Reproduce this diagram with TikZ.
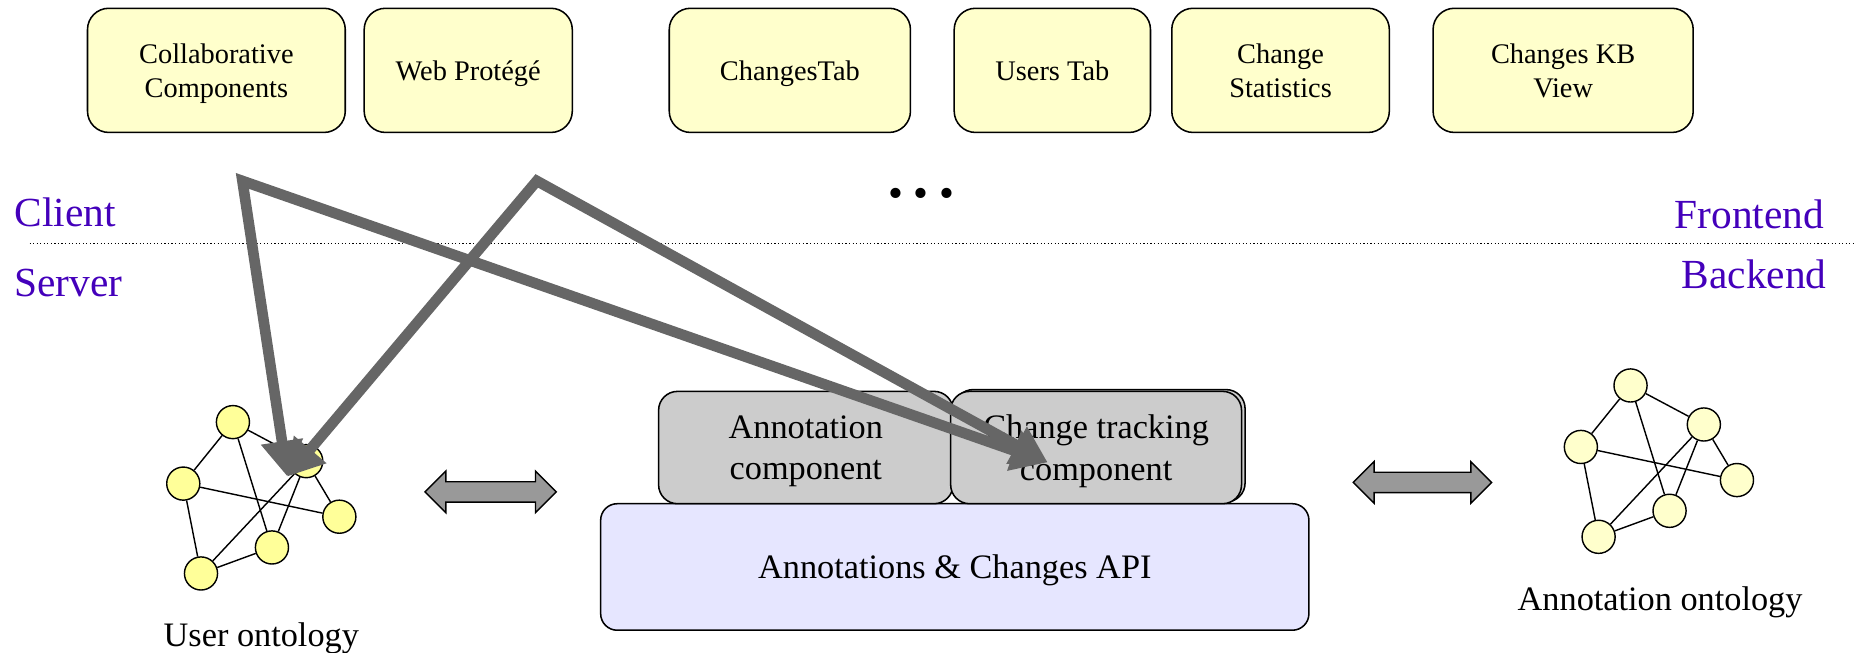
\documentclass[tikz,border=0pt]{standalone}
\usepackage{fontspec}
\setmainfont{Liberation Serif}
\usepackage{xcolor}
\usepackage{tikz}
\usetikzlibrary{arrows.meta, positioning, shapes, shadows}
\definecolor{toolFill}{HTML}{FFFFCC}
\definecolor{userDot}{HTML}{FFFF99}
\definecolor{annoDot}{HTML}{FFFFCC}
\definecolor{compFill}{HTML}{CCCCCC}
\definecolor{apiFill}{HTML}{E6E6FF}
\definecolor{tierColor}{HTML}{4400BB}
\definecolor{linkColor}{HTML}{666666}
\definecolor{syncFill}{HTML}{999999}

\tikzset{
  toolbox/.style={rectangle, rounded corners=18pt, draw=black, line width=1.3pt, fill=toolFill, minimum height=105pt, inner sep=0pt, outer sep=0pt, text depth=0pt, align=center, font=\fontsize{24}{29}\selectfont},
  compbox/.style={rectangle, rounded corners=16pt, draw=black, line width=1.3pt, fill=compFill, minimum height=95pt, inner sep=0pt, text depth=0pt, align=center, font=\fontsize{29}{35}\selectfont},
  tier/.style={text=tierColor, inner sep=0pt, font=\fontsize{35}{40}\selectfont},
  onto/.style={circle, draw=black, line width=1.2pt, minimum size=28pt, inner sep=0pt},
  ontolabel/.style={inner sep=0pt, font=\fontsize{29}{35}\selectfont},
  link/.style={draw=linkColor, line width=9pt, {Triangle[length=30pt, width=34pt]}-{Triangle[length=30pt, width=34pt]}},
  sync/.style={double arrow, draw=black, line width=1.2pt, fill=syncFill, minimum width=34pt, double arrow head extend=9pt, inner xsep=0pt, inner ysep=8pt}
}

% one small ontology graph: #1 prefix, #2 shift, #3 fill
\newcommand{\ontograph}[3]{%
  \begin{scope}[shift={#2}]
    \node[onto, fill=#3] (#1a) at (0,0) {};
    \node[onto, fill=#3] (#1b) at (62,33) {};
    \node[onto, fill=#3] (#1c) at (-42,52) {};
    \node[onto, fill=#3] (#1d) at (90,80) {};
    \node[onto, fill=#3] (#1e) at (33,106) {};
    \node[onto, fill=#3] (#1f) at (-27,128) {};
    \foreach \s/\t in {a/b, a/c, a/e, c/d, c/f, f/e, f/b, e/b, b/d}
      \draw[line width=1.2pt] (#1\s) -- (#1\t);
  \end{scope}}

\begin{document}
\begin{tikzpicture}[x=1pt, y=-1pt]
  \useasboundingbox (0,0) rectangle (1568,552);

  % client tools
  \node[toolbox, minimum width=218pt] (collab) at (183,59.5) {Collaborative\\Components};
  \node[toolbox, minimum width=176pt, right=16pt of collab] (webprot) {Web Protégé};
  \node[toolbox, minimum width=204pt, right=82pt of webprot] (changesTab) {ChangesTab};
  \node[toolbox, minimum width=166pt, right=37pt of changesTab] (usersTab) {Users Tab};
  \node[toolbox, minimum width=184pt, right=18pt of usersTab] (changeStats) {Change\\Statistics};
  \node[toolbox, minimum width=220pt, right=37pt of changeStats] (changesKB) {Changes KB\\View};
  \node[inner sep=0pt, font=\fontsize{36}{40}\selectfont] (more) at (779,167) {• • •};

  % tiers
  \node[tier, anchor=west] (client) at (12,180) {Client};
  \node[tier, anchor=west] (server) at (12,239) {Server};
  \node[tier, anchor=east] (frontend) at (1543,181) {Frontend};
  \node[tier, anchor=east] (backend) at (1545,232) {Backend};
  \coordinate (splitL) at (25,206);
  \coordinate (splitR) at (1568,206);
  \draw[dotted, line width=1pt] (splitL) -- (splitR);

  % ontologies
  \ontograph{u}{(197,357)}{userDot}
  \ontograph{n}{(1379,326)}{annoDot}
  \node[ontolabel] (userOnto) at (221,540) {User ontology};
  \node[ontolabel] (annoOnto) at (1404,509) {Annotation ontology};

  % backend components
  \node[rectangle, rounded corners=14pt, draw=black, line width=1.3pt, fill=apiFill, minimum width=599pt, minimum height=107pt, text depth=0pt, font=\fontsize{29}{35}\selectfont] (api) at (807.5,479.5) {Annotations \& Changes API};
  \node[compbox, minimum width=249pt] (annoComp) at (681.5,378.5) {Annotation\\component};
  \node[compbox, minimum width=246pt, copy shadow={shadow xshift=3pt, shadow yshift=1.5pt}] (trackComp) at (927,378.5) {Change tracking\\component};

  \node[sync, minimum height=111pt] (userSync) at (415,416) {};
  \node[sync, minimum height=117pt] (annoSync) at (1203,408) {};

  % access paths
  \coordinate (collabTap) at (205,153);
  \coordinate (webTap) at (454,153);
  \coordinate (userIn) at (243,403);
  \coordinate (trackIn) at (886,391);
  \draw[link] (userIn) -- (collabTap) -- (trackIn);
  \draw[link] (userIn) -- (webTap) -- (trackIn);
\end{tikzpicture}
\end{document}
